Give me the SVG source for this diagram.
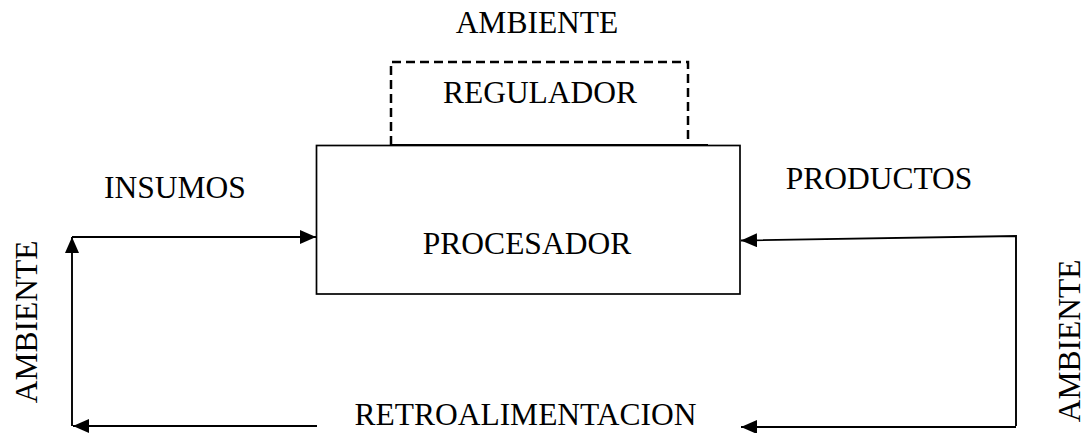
<svg xmlns="http://www.w3.org/2000/svg" width="1085" height="433" viewBox="0 0 1085 433">
<style>
text{font-family:"Liberation Serif","Times New Roman",serif;font-size:31.5px;fill:#000}
.box{fill:none;stroke:#000;stroke-width:1.7}
.dash{fill:none;stroke:#000;stroke-width:2.5;stroke-dasharray:9 5}
.ln{fill:none;stroke:#000;stroke-width:1.9}
</style>
<defs>
<marker id="ah" markerUnits="userSpaceOnUse" markerWidth="16" markerHeight="14" refX="16" refY="7" orient="auto">
<path d="M0,0 L16,7 L0,14 Z" fill="#000"/>
</marker>
</defs>
<rect width="1085" height="433" fill="#fff"/>
<g id="ambiente-top"><text x="537" y="33" text-anchor="middle">AMBIENTE</text></g>
<g id="regulador">
<path class="dash" d="M391,145 V62 H688 V145"/>
<line x1="391" y1="145" x2="708" y2="145" stroke="#000" stroke-width="2.2"/>
<text x="540" y="103" text-anchor="middle">REGULADOR</text>
</g>
<g id="procesador">
<rect class="box" x="316.5" y="145.5" width="423.5" height="148.5"/>
<text x="527" y="254" text-anchor="middle">PROCESADOR</text>
</g>
<g id="insumos"><text x="175" y="198" text-anchor="middle">INSUMOS</text></g>
<g id="productos"><text x="879" y="189" text-anchor="middle">PRODUCTOS</text></g>
<g id="retroalimentacion"><text x="525.5" y="425" text-anchor="middle">RETROALIMENTACION</text></g>
<g id="ambiente-left"><text transform="translate(37,322) rotate(-90)" text-anchor="middle">AMBIENTE</text></g>
<g id="ambiente-right"><text transform="translate(1080,341) rotate(-90)" text-anchor="middle">AMBIENTE</text></g>
<g id="connectors">
<path class="ln" d="M72,426 V237" marker-end="url(#ah)"/>
<path class="ln" d="M72,237 H316" marker-end="url(#ah)"/>
<path class="ln" d="M317,426 H73" marker-end="url(#ah)"/>
<path class="ln" d="M1016,426 V236 L741,240.5" marker-end="url(#ah)"/>
<path class="ln" d="M1016,427 H741" marker-end="url(#ah)"/>
</g>
</svg>
